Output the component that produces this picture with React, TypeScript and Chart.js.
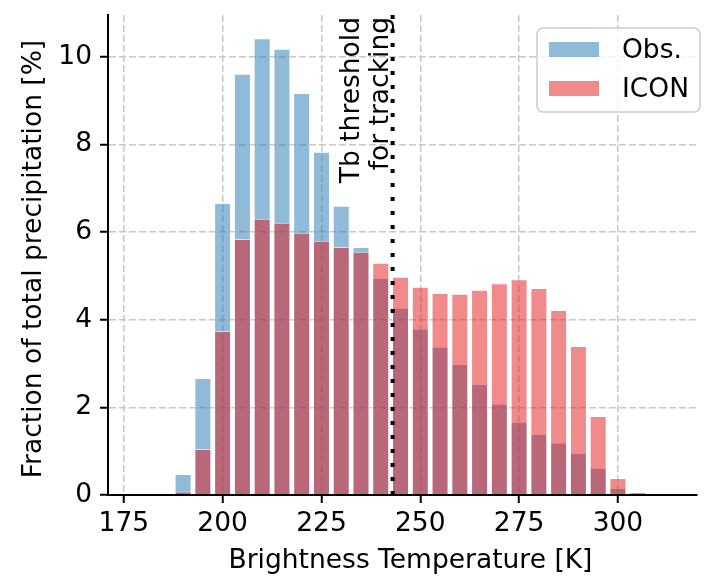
import React, { useEffect, useRef } from "react";
import { Chart, registerables } from "chart.js";

Chart.register(...registerables);

// ---- data ----
const binCenters = [190, 195, 200, 205, 210, 215, 220, 225, 230, 235, 240, 245, 250, 255, 260, 265, 270, 275, 280, 285, 290, 295, 300, 305];
const obsValues = [0.48, 2.67, 6.66, 9.61, 10.42, 10.18, 9.17, 7.83, 6.6, 5.66, 4.95, 4.27, 3.79, 3.38, 2.99, 2.53, 2.08, 1.67, 1.39, 1.19, 0.96, 0.62, 0.16, 0.0];
const iconValues = [0.08, 1.05, 3.74, 5.84, 6.3, 6.21, 5.98, 5.8, 5.66, 5.55, 5.3, 4.98, 4.75, 4.61, 4.59, 4.68, 4.83, 4.92, 4.72, 4.22, 3.4, 1.8, 0.39, 0.07];
const seriesLabels = ["Obs.", "ICON"];
const thresholdValue = 243;
const thresholdText = ["Tb threshold", "for tracking"];
const xTicks = [175, 200, 225, 250, 275, 300];
const yTicks = [0, 2, 4, 6, 8, 10];
const xMin = 171;
const xMax = 320;
const yMin = 0;
const yMax = 10.95;
const xTitle = "Brightness Temperature [K]";
const yTitle = "Fraction of total precipitation [%]";

const FONT = "'DejaVu Sans', 'Noto Sans', sans-serif";
const FS = 26.5;
const OBS_COLOR = "rgba(31,119,180,0.5)";
const ICON_COLOR = "rgba(225,21,23,0.5)";
const GRID_COLOR = "#c8c8c8";

const overlayPlugin = {
  id: "overlay",
  afterDraw(chart: any) {
    const ctx = chart.ctx as CanvasRenderingContext2D;
    ctx.save();
    ctx.fillStyle = "#000";
    ctx.font = `${FS}px ${FONT}`;

    // threshold annotation (rotated)
    ctx.save();
    ctx.translate(359, 17);
    ctx.rotate(-Math.PI / 2);
    ctx.textAlign = "right";
    ctx.textBaseline = "alphabetic";
    ctx.fillText(thresholdText[0], 0, 0);
    ctx.fillText(thresholdText[1], 0, 29);
    ctx.restore();

    // y axis title
    ctx.save();
    ctx.translate(41, 259);
    ctx.rotate(-Math.PI / 2);
    ctx.textAlign = "center";
    ctx.textBaseline = "alphabetic";
    ctx.fillText(yTitle, 0, 0);
    ctx.restore();

    // x axis title
    ctx.textAlign = "center";
    ctx.textBaseline = "alphabetic";
    ctx.fillText(xTitle, 410.5, 568);

    // legend
    const lx = 537, ly = 28, lw = 163, lh = 84, r = 6;
    ctx.beginPath();
    ctx.moveTo(lx + r, ly);
    ctx.arcTo(lx + lw, ly, lx + lw, ly + lh, r);
    ctx.arcTo(lx + lw, ly + lh, lx, ly + lh, r);
    ctx.arcTo(lx, ly + lh, lx, ly, r);
    ctx.arcTo(lx, ly, lx + lw, ly, r);
    ctx.closePath();
    ctx.fillStyle = "rgba(255,255,255,0.8)";
    ctx.fill();
    ctx.strokeStyle = "#cccccc";
    ctx.lineWidth = 1.5;
    ctx.stroke();

    const ds = chart.data.datasets;
    const entries = [
      { label: seriesLabels[0], color: ds[2].backgroundColor, y: 42 },
      { label: seriesLabels[1], color: ds[1].backgroundColor, y: 81 },
    ];
    entries.forEach((e) => {
      ctx.fillStyle = e.color;
      ctx.fillRect(549, e.y, 50, 15);
      ctx.fillStyle = "#000";
      ctx.textAlign = "left";
      ctx.textBaseline = "alphabetic";
      ctx.fillText(e.label, 622, e.y + 16);
    });
    ctx.restore();
  },
};

export default function App() {
  const canvasRef = useRef<HTMLCanvasElement | null>(null);

  useEffect(() => {
    if (!canvasRef.current) return;
    const barCommon = {
      borderColor: "rgba(255,255,255,0.6)",
      borderWidth: 1,
      barPercentage: 0.86,
      categoryPercentage: 1,
      grouped: false,
    };
    const chart = new Chart(canvasRef.current, {
      type: "bar",
      data: {
        datasets: [
          {
            type: "line",
            label: "threshold",
            data: [
              { x: thresholdValue, y: yMin },
              { x: thresholdValue, y: yMax },
            ],
            borderColor: "#000",
            borderWidth: 4,
            borderDash: [4, 10],
            pointRadius: 0,
            fill: false,
            order: 0,
          } as any,
          {
            label: seriesLabels[1],
            data: binCenters.map((x, i) => ({ x, y: iconValues[i] })),
            backgroundColor: ICON_COLOR,
            order: 1,
            ...barCommon,
          } as any,
          {
            label: seriesLabels[0],
            data: binCenters.map((x, i) => ({ x, y: obsValues[i] })),
            backgroundColor: OBS_COLOR,
            order: 2,
            ...barCommon,
          } as any,
        ],
      },
      options: {
        animation: false,
        responsive: false,
        maintainAspectRatio: false,
        layout: { padding: { top: 15, right: 7, left: 0, bottom: 0 } },
        plugins: {
          legend: { display: false },
          tooltip: { enabled: false },
        },
        scales: {
          x: {
            type: "linear",
            min: xMin,
            max: xMax,
            offset: false,
            grid: {
              offset: false,
              color: GRID_COLOR,
              lineWidth: 1.5,
              tickColor: "#000",
              tickWidth: 2,
              tickLength: 8,
            },
            border: { color: "#000", width: 2, dash: [7, 3] },
            ticks: {
              font: { family: FONT, size: FS },
              color: "#000",
              padding: 5,
              autoSkip: false,
              maxRotation: 0,
              callback: (v: any) => String(v),
            },
            afterBuildTicks: (s: any) => {
              s.ticks = xTicks.map((v) => ({ value: v }));
            },
            afterFit: (s: any) => {
              s.height = 82;
              s.paddingLeft = 0;
              s.paddingRight = 0;
            },
          },
          y: {
            type: "linear",
            min: yMin,
            max: yMax,
            grid: {
              color: GRID_COLOR,
              lineWidth: 1.5,
              tickColor: "#000",
              tickWidth: 2,
              tickLength: 8,
            },
            border: { color: "#000", width: 2, dash: [7, 3] },
            ticks: {
              font: { family: FONT, size: FS },
              color: "#000",
              padding: 8,
              callback: (v: any) => String(v),
            },
            afterBuildTicks: (s: any) => {
              s.ticks = yTicks.map((v) => ({ value: v }));
            },
            afterFit: (s: any) => {
              s.width = 108;
              s.paddingTop = 0;
              s.paddingBottom = 0;
            },
          },
        },
      } as any,
      plugins: [overlayPlugin],
    });
    return () => chart.destroy();
  }, []);

  return (
    <div style={{ position: "absolute", left: 0, top: 0, width: 704, height: 577, background: "#fff" }}>
      <canvas ref={canvasRef} width={704} height={577} style={{ display: "block", width: 704, height: 577 }} />
    </div>
  );
}
